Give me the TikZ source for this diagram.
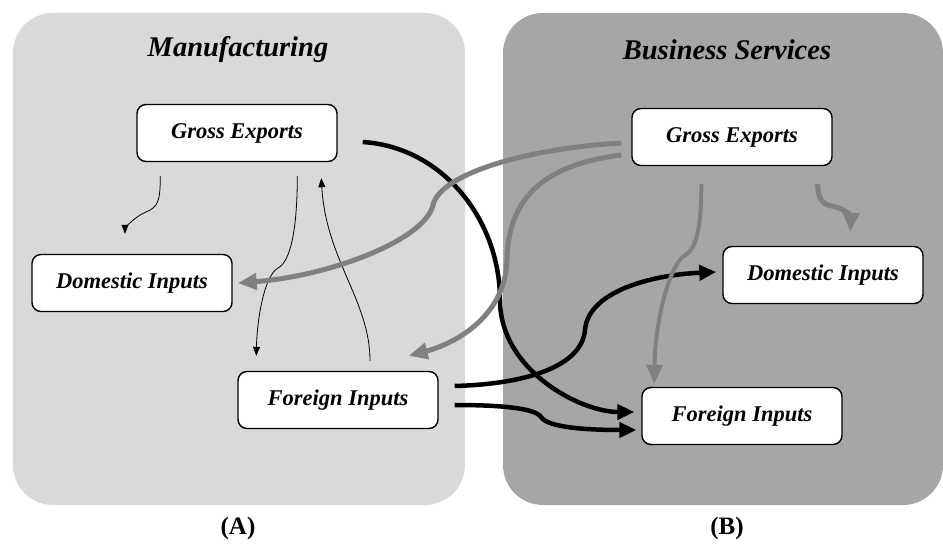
\documentclass[tikz,border=0pt]{standalone}
\usepackage{fontspec}
\setmainfont{Liberation Serif}
\usepackage{tikz}
\usetikzlibrary{arrows.meta}

\tikzset{
    panel/.style={rounded corners=40pt, draw=none},
    box/.style={draw, line width=1.4pt, fill=white, rounded corners=9pt,
        minimum width=200pt, minimum height=57pt, inner sep=0pt,
        font=\fontsize{22.5}{27}\selectfont\bfseries\itshape},
    title/.style={font=\fontsize{28.5}{34}\selectfont\bfseries\itshape},
    thinarrow/.style={line width=0.8pt, -{Triangle[length=9pt,width=7pt]}},
    blackarrow/.style={line width=4.5pt, -{Triangle[length=17pt,width=15pt]}},
    grayarrow/.style={line width=5pt, draw=black!50, -{Triangle[length=19pt,width=16pt]}}
}

\begin{document}
\begin{tikzpicture}[x=1pt, y=-1pt]
    \useasboundingbox (0,0) rectangle (943,545);

    % the two sectors
    \fill[panel, black!15] (13,13) rectangle (465,505);
    \fill[panel, black!35] (503,13) rectangle (943,505);
    \node[title] (mtitle) at (238,50) {Manufacturing};
    \node[title] (btitle) at (727,50) {Business Services};

    % boxes
    \node[box] (mge) at (237,133) {Gross Exports};
    \node[box] (mdi) at (132,283) {Domestic Inputs};
    \node[box] (mfi) at (338,400) {Foreign Inputs};
    \node[box] (bge) at (732,137) {Gross Exports};
    \node[box] (bdi) at (823,275) {Domestic Inputs};
    \node[box] (bfi) at (742,416) {Foreign Inputs};

    \node[font=\fontsize{25}{30}\selectfont\bfseries] (la) at (238,528) {(A)};
    \node[font=\fontsize{25}{30}\selectfont\bfseries] (lb) at (727,528) {(B)};

    % manufacturing, thin arrows
    \draw[thinarrow] ([shift={(24,14)}]mge.south west)
        .. controls +(0,25) and (158,207) .. (146,212)
        .. controls (132,218) and (125,230) .. ([shift={(-7,-20)}]mdi.north);
    \draw[thinarrow] ([shift={(161,14)}]mge.south west)
        .. controls +(0,55) and (290,262) .. (278,268)
        .. controls (264,276) and (257,320) .. ([shift={(19,-15)}]mfi.north west);
    \draw[thinarrow] ([shift={(32,-10)}]mfi.north)
        .. controls +(0,-60) and (326,260) .. ([shift={(185,16)}]mge.south west);

    % black arrows into business services
    \draw[blackarrow] ([shift={(25,9)}]mge.east)
        .. controls +(80,5) and (500,220) .. (500,300)
        .. controls (500,370) and (580,412) .. ([shift={(-7,-4)}]bfi.west);
    \draw[blackarrow] ([shift={(16,-14)}]mfi.east)
        .. controls +(75,-2) and (582,365) .. (585,330)
        .. controls (588,292) and (650,275) .. ([shift={(-6,-3)}]bdi.west);
    \draw[blackarrow] ([shift={(16,5)}]mfi.east)
        .. controls +(45,0) and (535,408) .. (541,417)
        .. controls (548,428) and (590,430) .. ([shift={(-5,14)}]bfi.west);

    % gray arrows out of business services
    \draw[grayarrow] ([shift={(-10,6)}]bge.west)
        .. controls +(-100,6) and (440,175) .. (433,205)
        .. controls (425,240) and (330,276) .. ([xshift=5pt]mdi.east);
    \draw[grayarrow] ([shift={(-10,18)}]bge.west)
        .. controls +(-80,10) and (508,200) .. (507,260)
        .. controls (505,320) and (450,345) .. ([shift={(-30,-15)}]mfi.north east);
    \draw[grayarrow, line width=4pt] ([shift={(70,18)}]bge.south west)
        .. controls +(0,45) and (696,250) .. (684,256)
        .. controls (670,265) and (655,320) .. ([shift={(13,-3)}]bfi.north west);
    \draw[grayarrow] ([shift={(-15,18)}]bge.south east)
        .. controls +(0,16) and (824,205) .. (832,206)
        .. controls (843,208) and (851,216) .. ([shift={(128,-14)}]bdi.north west);
\end{tikzpicture}
\end{document}
